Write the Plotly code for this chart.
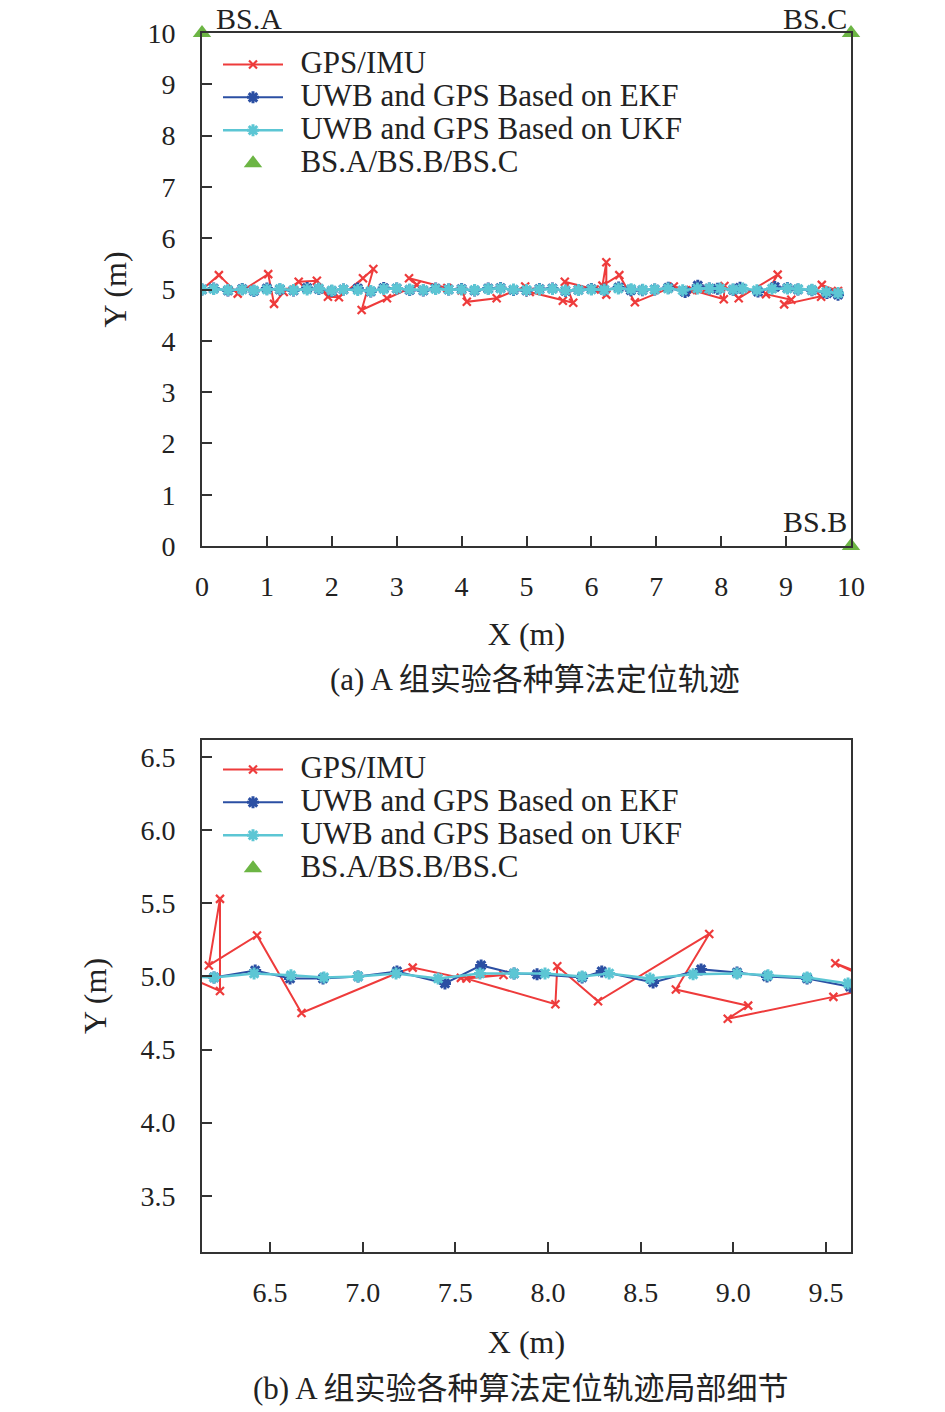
import plotly.graph_objects as go

# GPS/IMU trajectory (m)
gps_x = [0.0, 0.26, 0.55, 1.02, 1.11, 1.26, 1.49, 1.77, 1.94, 2.11, 2.48, 2.64, 2.46, 2.85,
         3.31, 3.19, 3.78, 4.0, 4.08, 4.54, 4.98, 5.05, 5.56, 5.72, 5.59, 6.05, 6.23, 6.23,
         6.17, 6.43, 6.67, 7.18, 7.27, 7.53, 7.76, 7.56, 8.04, 8.05, 8.27, 8.87, 8.69, 9.08,
         8.97, 9.54, 9.8, 9.55, 9.8]
gps_y = [5.0, 5.28, 4.92, 5.3, 4.72, 4.95, 5.15, 5.17, 4.86, 4.85, 5.22, 5.4, 4.6, 4.83,
         5.09, 5.22, 5.03, 4.98, 4.76, 4.83, 5.06, 4.95, 4.78, 4.74, 5.15, 5.0, 4.9, 5.53,
         5.075, 5.28, 4.75, 5.02, 5.06, 4.99, 5.01, 4.985, 4.81, 5.07, 4.83, 5.29, 4.91, 4.8,
         4.71, 4.86, 4.94, 5.09, 4.97]

# UWB and GPS based on EKF
ekf_x = [0.0, 0.18, 0.4, 0.62, 0.8, 1.0, 1.2, 1.41, 1.62, 1.8, 2.0, 2.18, 2.4, 2.6, 2.8,
         3.0, 3.2, 3.41, 3.6, 3.8, 4.0, 4.2, 4.41, 4.6, 4.8, 5.0, 5.2, 5.4, 5.6, 5.8, 6.0,
         6.198, 6.42, 6.608, 6.786, 6.975, 7.185, 7.444, 7.639, 7.817, 7.941, 8.184, 8.29,
         8.567, 8.826, 9.02, 9.182, 9.398, 9.63, 9.8]
ekf_y = [5.0, 5.02, 4.98, 5.01, 4.97, 5.02, 5.0, 4.98, 5.03, 5.01, 4.97, 5.0, 5.02, 4.96,
         5.03, 5.02, 4.99, 4.98, 5.02, 5.0, 5.01, 4.98, 5.02, 5.03, 4.99, 4.98, 5.01, 5.02,
         4.97, 4.99, 5.01, 4.993, 5.04, 4.986, 4.986, 5.0, 5.034, 4.952, 5.075, 5.02, 5.014,
         4.993, 5.034, 4.959, 5.048, 5.027, 5.0, 4.986, 4.93, 4.9]

# UWB and GPS based on UKF
ukf_x = [0.0, 0.18, 0.4, 0.62, 0.8, 1.0, 1.2, 1.41, 1.62, 1.8, 2.0, 2.18, 2.4, 2.6, 2.8,
         3.0, 3.2, 3.41, 3.6, 3.8, 4.0, 4.2, 4.41, 4.6, 4.8, 5.0, 5.2, 5.4, 5.6, 5.8, 6.0,
         6.198, 6.414, 6.613, 6.791, 6.975, 7.18, 7.407, 7.633, 7.817, 7.984, 8.184, 8.33,
         8.55, 8.783, 9.02, 9.187, 9.398, 9.619, 9.8]
ukf_y = [5.0, 5.01, 4.99, 5.0, 4.98, 5.0, 5.01, 4.99, 5.0, 5.02, 4.98, 5.0, 4.99, 4.97,
         5.01, 5.02, 5.0, 4.99, 5.01, 5.0, 5.0, 4.99, 5.01, 5.02, 5.0, 4.99, 5.0, 5.01, 4.98,
         4.99, 5.0, 4.993, 5.02, 5.007, 4.993, 5.0, 5.02, 4.986, 5.02, 5.02, 5.02, 5.0, 5.02,
         4.986, 5.014, 5.02, 5.007, 4.993, 4.952, 4.93]

# base stations
bs_x = [0, 10, 10]
bs_y = [10, 0, 10]
bs_labels = ["BS.A", "BS.B", "BS.C"]

names = ["GPS/IMU", "UWB and GPS Based on EKF", "UWB and GPS Based on UKF", "BS.A/BS.B/BS.C"]
captions = ["(a) A 组实验各种算法定位轨迹", "(b) A 组实验各种算法定位轨迹局部细节"]

RED = "#EE3B3B"
BLUE = "#2B4FA3"
CYAN = "#5CC6D4"
GREEN = "#6CB544"
SERIF = "Liberation Serif, Times New Roman, serif"
CAPFONT = "Liberation Serif, Noto Sans CJK SC, serif"
W, H = 945, 1412


def big(s):
    # legend text drawn larger than the legend row height, pushed a bit right
    return '<span style="font-size:31px">\u2009\u2009' + s + '</span>'


def px_x(p):
    return p / W


def px_y(p):
    return 1 - p / H


fig = go.Figure()

for xa, ya, leg in [("x", "y", "legend"), ("x2", "y2", "legend2")]:
    fig.add_trace(go.Scatter(x=gps_x, y=gps_y, name=big(names[0]), mode="lines+markers",
                             line=dict(color=RED, width=2),
                             marker=dict(symbol="x-thin", size=8, line=dict(color=RED, width=2.2)),
                             xaxis=xa, yaxis=ya, legend=leg))
    fig.add_trace(go.Scatter(x=ekf_x, y=ekf_y, name=big(names[1]), mode="lines+markers",
                             line=dict(color=BLUE, width=2),
                             marker=dict(symbol="asterisk", size=10, line=dict(color=BLUE, width=3)),
                             xaxis=xa, yaxis=ya, legend=leg))
    fig.add_trace(go.Scatter(x=ukf_x, y=ukf_y, name=big(names[2]), mode="lines+markers",
                             line=dict(color=CYAN, width=2.5),
                             marker=dict(symbol="asterisk", size=10, line=dict(color=CYAN, width=3)),
                             xaxis=xa, yaxis=ya, legend=leg))
    fig.add_trace(go.Scatter(x=bs_x, y=bs_y, name=big(names[3]), mode="markers",
                             marker=dict(symbol="triangle-up", size=16, color=GREEN),
                             cliponaxis=False, xaxis=xa, yaxis=ya, legend=leg))

# base station labels on the full view
for bx, by, lab in zip(bs_x, bs_y, bs_labels):
    left = bx == 0
    fig.add_annotation(x=bx, y=by, xref="x", yref="y", text=lab, showarrow=False,
                       xanchor="left" if left else "right", yanchor="bottom",
                       xshift=12 if left else -2, yshift=-4 if by == 10 else 6,
                       font=dict(family=SERIF, size=30, color="#222"))

axis_common = dict(showline=True, linecolor="#333", linewidth=2, mirror=True,
                   ticks="inside", ticklen=10, tickwidth=2, tickcolor="#333",
                   showgrid=False, zeroline=False, automargin=False,
                   tickfont=dict(family=SERIF, size=28, color="#222"),
                   title_font=dict(family=SERIF, size=32, color="#222"))
xcommon = dict(ticklabelstandoff=14, **axis_common)
ycommon = dict(ticklabelstandoff=19, **axis_common)

xdom = [px_x(202), px_x(851)]
legend_common = dict(x=px_x(218), xanchor="left", yanchor="top", bgcolor="rgba(0,0,0,0)",
                     itemwidth=60, font=dict(family=SERIF, size=23, color="#222"))
fig.update_layout(
    width=W, height=H,
    margin=dict(l=0, r=0, t=0, b=0),
    paper_bgcolor="white", plot_bgcolor="white",
    xaxis=dict(domain=xdom, anchor="y", range=[0, 10], dtick=1, tick0=0,
               title=dict(text="X (m)", standoff=22), **xcommon),
    yaxis=dict(domain=[px_y(546), px_y(33)], anchor="x", range=[0, 10], dtick=1, tick0=0,
               title=dict(text="Y (m)", standoff=11), **ycommon),
    xaxis2=dict(domain=xdom, anchor="y2", range=[6.133, 9.635], dtick=0.5, tick0=6.5,
                tickformat=".1f", title=dict(text="X (m)", standoff=24), **xcommon),
    yaxis2=dict(domain=[px_y(1252), px_y(740)], anchor="x2", range=[3.116, 6.616], dtick=0.5,
                tick0=3.5, tickformat=".1f", title=dict(text="Y (m)", standoff=24), **ycommon),
    legend=dict(y=px_y(43), **legend_common),
    legend2=dict(y=px_y(748), **legend_common),
)

for cap, ypix, xpix in zip(captions, [679, 1388], [535, 521]):
    fig.add_annotation(x=px_x(xpix), y=px_y(ypix), xref="paper", yref="paper",
                       text=cap, showarrow=False, xanchor="center", yanchor="middle",
                       font=dict(family=CAPFONT, size=31, color="#222"))

fig.write_html("out.html", config={"displayModeBar": False},
               post_script="document.body.style.margin = '0';")
